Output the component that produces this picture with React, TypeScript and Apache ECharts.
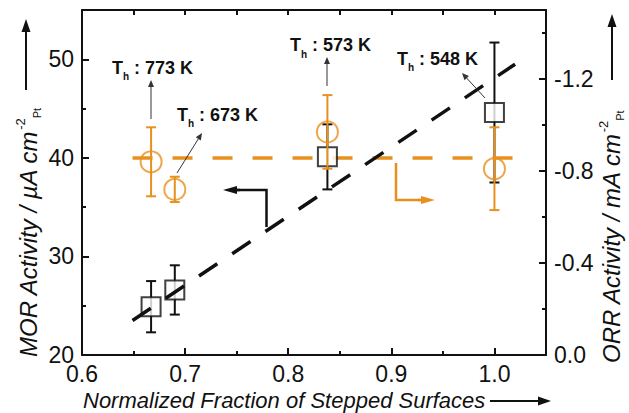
import React, { useEffect, useRef } from 'react';
import * as echarts from 'echarts';

// Normalized fraction of stepped surfaces (x)
const fractions = [0.667, 0.69, 0.838, 1.0];
// MOR activity / µA cm-2 (left axis)
const morActivity = [24.9, 26.6, 40.1, 44.6];
const morError = [2.6, 2.5, 3.3, 7.1];
// ORR activity / mA cm-2 (right axis, negative values)
const orrActivity = [-0.84, -0.72, -0.97, -0.81];
const orrError = [0.15, 0.055, 0.16, 0.18];
// dashed guide lines (end points)
const morFitX = [0.649, 1.02];
const morFitY = [23.5, 49.5];
const orrFitX = [0.649, 1.02];
const orrFitY = [-0.857, -0.857];
// annealing temperature labels
const annealLabels = ['773 K', '673 K', '573 K', '548 K'];

const FONT = '"Liberation Sans", Arial, sans-serif';
const BLACK = '#111111';
const ORANGE = '#E8901F';

function arrow(x1: number, y1: number, x2: number, y2: number, color: string, width: number, headLen: number, headW: number, z = 10) {
  const dx = x2 - x1, dy = y2 - y1;
  const len = Math.sqrt(dx * dx + dy * dy);
  const ux = dx / len, uy = dy / len;
  const bx = x2 - ux * headLen, by = y2 - uy * headLen;
  const px = -uy, py = ux;
  return [
    { type: 'line', z, shape: { x1, y1, x2: bx + ux * 1, y2: by + uy * 1 }, style: { stroke: color, lineWidth: width } },
    {
      type: 'polygon', z,
      shape: { points: [[x2, y2], [bx + px * headW, by + py * headW], [bx - px * headW, by - py * headW]] },
      style: { fill: color },
    },
  ];
}

function annText(label: string, x: number, y: number) {
  return {
    type: 'text', x, y, z: 10,
    style: {
      text: `{b|T}{s|h}{b| : ${label}}`,
      align: 'left', verticalAlign: 'middle', fill: BLACK,
      rich: {
        b: { fontSize: 18, fontWeight: 'bold', fontFamily: FONT, lineHeight: 28, fill: BLACK },
        s: { fontSize: 10, fontWeight: 'bold', fontFamily: FONT, lineHeight: 10, verticalAlign: 'bottom', fill: BLACK },
      },
    },
  };
}

function yTitle(main: string, x: number, y: number) {
  return {
    type: 'text', x, y, rotation: Math.PI / 2, z: 10,
    style: {
      text: `{m|${main}}{sup|-2}{sub|Pt}`,
      align: 'left', verticalAlign: 'middle', fill: BLACK,
      rich: {
        m: { fontSize: 24, fontStyle: 'italic', fontFamily: FONT, lineHeight: 28, fill: BLACK },
        sup: { fontSize: 13, fontFamily: FONT, lineHeight: 12, verticalAlign: 'top', fill: BLACK },
        sub: { fontSize: 11, fontFamily: FONT, lineHeight: 12, verticalAlign: 'bottom', fill: BLACK },
      },
    },
  };
}

function errorBarSeries(data: number[][], yAxisIndex: number, color: string, z: number) {
  return {
    type: 'custom', xAxisIndex: 0, yAxisIndex, z, silent: true,
    encode: { x: 0, y: 1 },
    data,
    renderItem: (params: any, api: any) => {
      const x = api.value(0), y = api.value(1), e = api.value(2);
      const top = api.coord([x, y + e]);
      const bot = api.coord([x, y - e]);
      const cap = 5;
      const st = { stroke: color, lineWidth: 2 };
      return {
        type: 'group',
        children: [
          { type: 'line', shape: { x1: top[0], y1: top[1], x2: bot[0], y2: bot[1] }, style: st },
          { type: 'line', shape: { x1: top[0] - cap, y1: top[1], x2: top[0] + cap, y2: top[1] }, style: st },
          { type: 'line', shape: { x1: bot[0] - cap, y1: bot[1], x2: bot[0] + cap, y2: bot[1] }, style: st },
        ],
      };
    },
  };
}

export default function App() {
  const ref = useRef<HTMLDivElement>(null);
  useEffect(() => {
    if (!ref.current) return;
    const chart = echarts.init(ref.current, null, { renderer: 'svg' });

    const morPts = fractions.map((x, i) => [x, morActivity[i]]);
    const morErr = fractions.map((x, i) => [x, morActivity[i], morError[i]]);
    // right axis shows magnitudes with a minus sign in the labels
    const orrPts = fractions.map((x, i) => [x, -orrActivity[i]]);
    const orrErr = fractions.map((x, i) => [x, -orrActivity[i], orrError[i]]);
    const morFit = morFitX.map((x, i) => [x, morFitY[i]]);
    const orrFit = orrFitX.map((x, i) => [x, -orrFitY[i]]);

    const axisLineStyle = { color: BLACK, width: 2 };
    const tickLabel = { fontSize: 23, fontFamily: FONT, color: BLACK, margin: 8 };

    const positions = [
      [112, 67.5], [177, 114.5], [290, 45], [397, 58.5],
    ];

    const option: any = {
      animation: false,
      backgroundColor: '#ffffff',
      grid: { left: 82, right: 83, top: 10, bottom: 58, containLabel: false, outerBoundsMode: 'none' },
      xAxis: [
        {
          type: 'value', position: 'bottom', min: 0.6, max: 1.05, interval: 0.1,
          axisLine: { onZero: false, lineStyle: axisLineStyle },
          axisTick: { inside: true, length: 7, lineStyle: { color: BLACK, width: 2 } },
          axisLabel: {
            ...tickLabel,
            margin: 7,
            formatter: (v: number) => (v > 1.01 ? '' : v.toFixed(1)),
          },
          splitLine: { show: false },
        },
        {
          type: 'value', position: 'bottom', min: 0.6, max: 1.05, interval: 0.05,
          axisLine: { show: false, onZero: false },
          axisTick: { inside: true, length: 4, lineStyle: { color: BLACK, width: 2 } },
          axisLabel: { show: false },
          splitLine: { show: false },
        },
        {
          type: 'value', position: 'top', min: 0.6, max: 1.05, interval: 0.05,
          axisLine: { show: true, onZero: false, lineStyle: axisLineStyle },
          axisTick: { inside: true, length: 5, lineStyle: { color: BLACK, width: 2 } },
          axisLabel: { show: false },
          splitLine: { show: false },
        },
      ],
      yAxis: [
        {
          type: 'value', position: 'left', min: 20, max: 55, interval: 10,
          axisLine: { show: true, onZero: false, lineStyle: axisLineStyle },
          axisTick: { show: true, inside: true, length: 7, lineStyle: { color: BLACK, width: 2 } },
          axisLabel: { ...tickLabel, formatter: (v: number) => (Math.round(v) % 10 === 0 ? String(Math.round(v)) : '') },
          splitLine: { show: false },
        },
        {
          type: 'value', position: 'right', min: 0, max: 1.5, interval: 0.4,
          axisLine: { show: true, onZero: false, lineStyle: axisLineStyle },
          axisTick: { show: true, inside: true, length: 7, lineStyle: { color: BLACK, width: 2 } },
          axisLabel: {
            ...tickLabel,
            formatter: (v: number) => (v > 1.45 ? '' : v < 1e-9 ? '0.0' : '-' + v.toFixed(1)),
          },
          splitLine: { show: false },
        },
        {
          type: 'value', position: 'left', min: 20, max: 55, interval: 5,
          axisLine: { show: false, onZero: false },
          axisTick: { show: true, inside: true, length: 4, lineStyle: { color: BLACK, width: 2 } },
          axisLabel: { show: false },
          splitLine: { show: false },
        },
        {
          type: 'value', position: 'right', min: 0, max: 1.5, interval: 0.2,
          axisLine: { show: false, onZero: false },
          axisTick: { show: true, inside: true, length: 4, lineStyle: { color: BLACK, width: 2 } },
          axisLabel: { show: false },
          splitLine: { show: false },
        },
      ],
      series: [
        errorBarSeries(morErr, 0, BLACK, 1),
        {
          type: 'line', xAxisIndex: 0, yAxisIndex: 1, data: orrFit, z: 2, silent: true,
          symbol: 'none', showSymbol: false,
          lineStyle: { color: ORANGE, width: 3.5, type: [20, 20] },
        },
        {
          type: 'scatter', xAxisIndex: 0, yAxisIndex: 0, data: morPts, z: 3, silent: true,
          symbol: 'rect', symbolSize: 19,
          itemStyle: { color: '#ffffff', borderColor: BLACK, borderWidth: 2 },
        },
        {
          type: 'line', xAxisIndex: 0, yAxisIndex: 0, data: morFit, z: 4, silent: true,
          symbol: 'none', showSymbol: false,
          lineStyle: { color: BLACK, width: 3.5, type: [22, 18] },
        },
        errorBarSeries(orrErr, 1, ORANGE, 5),
        {
          type: 'scatter', xAxisIndex: 0, yAxisIndex: 1, data: orrPts, z: 6, silent: true,
          symbol: 'circle', symbolSize: 21,
          itemStyle: { color: 'rgba(0,0,0,0)', borderColor: ORANGE, borderWidth: 2 },
        },
      ],
      graphic: [
        // axis titles
        yTitle('MOR Activity / \u00b5A cm', 28, 357),
        yTitle('ORR Activity / mA cm', 611, 363),
        {
          type: 'text', x: 83, y: 400, z: 10,
          style: {
            text: 'Normalized Fraction of Stepped Surfaces',
            fontSize: 22, fontStyle: 'italic', fontFamily: FONT, fill: BLACK,
            align: 'left', verticalAlign: 'middle',
          },
        },
        ...arrow(490, 401, 551, 401, BLACK, 2, 13, 4.5),
        ...arrow(26, 90, 26, 19, BLACK, 2, 13, 4.5),
        ...arrow(612, 80, 612, 14, BLACK, 2, 13, 4.5),
        // annotation labels
        ...annealLabels.map((l, i) => annText(l, positions[i][0], positions[i][1])),
        ...arrow(151, 119, 151, 80, '#333333', 1, 7, 3),
        ...arrow(177, 173, 202, 133, '#333333', 1, 7, 3),
        ...arrow(327, 86, 327, 57, '#333333', 1, 7, 3),
        ...arrow(485, 98, 462, 73, '#333333', 1, 7, 3),
        // axis-assignment L arrows
        { type: 'polyline', z: 10, shape: { points: [[266.5, 227], [266.5, 190], [236, 190]] }, style: { stroke: BLACK, lineWidth: 2.5, fill: 'none' } },
        ...arrow(240, 190, 223, 190, BLACK, 2.5, 14, 4),
        { type: 'polyline', z: 10, shape: { points: [[396, 163], [396, 200], [422, 200]] }, style: { stroke: ORANGE, lineWidth: 2.5, fill: 'none' } },
        ...arrow(418, 200, 435, 200, ORANGE, 2.5, 14, 4),
      ],
    };
    chart.setOption(option);
    return () => chart.dispose();
  }, []);

  return (
    <div
      ref={ref}
      style={{ position: 'fixed', left: 0, top: 0, width: 629, height: 413, background: '#fff' }}
    />
  );
}
